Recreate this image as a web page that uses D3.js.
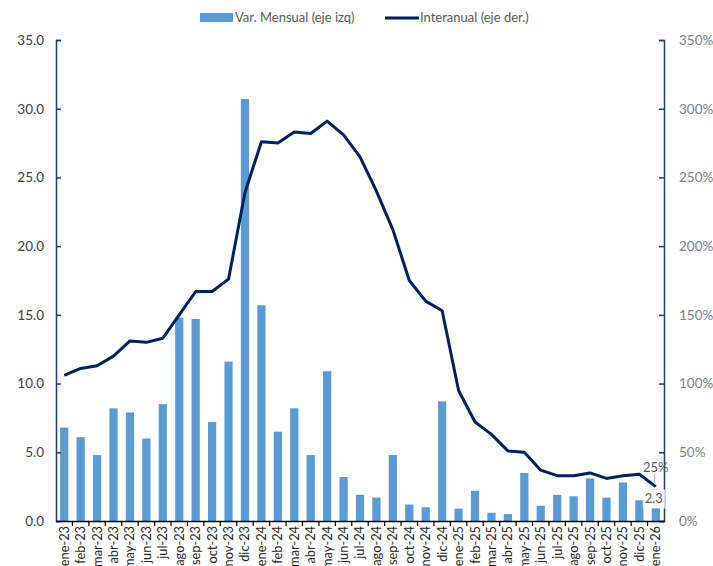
<!DOCTYPE html>
<html><head><meta charset="utf-8">
<script src="https://cdn.jsdelivr.net/npm/d3@7"></script>
<style>body{margin:0;background:#fff;overflow:hidden}svg{display:block;font-family:Lato,"Open Sans",sans-serif}</style>
</head><body><svg id="c" width="713" height="566"></svg>
<script>
const categories = ["ene-23","feb-23","mar-23","abr-23","may-23","jun-23","jul-23","ago-23","sep-23","oct-23","nov-23","dic-23",
"ene-24","feb-24","mar-24","abr-24","may-24","jun-24","jul-24","ago-24","sep-24","oct-24","nov-24","dic-24",
"ene-25","feb-25","mar-25","abr-25","may-25","jun-25","jul-25","ago-25","sep-25","oct-25","nov-25","dic-25","ene-26"];
const mensual = [6.8,6.1,4.8,8.2,7.9,6.0,8.5,14.8,14.7,7.2,11.6,30.7,
15.7,6.5,8.2,4.8,10.9,3.2,1.9,1.7,4.8,1.2,1.0,8.7,
0.9,2.2,0.6,0.5,3.5,1.1,1.9,1.8,3.1,1.7,2.8,1.5,2.3];
const interanual = [106,111,113,120,131,130,133,150,167,167,176,239,
276,275,283,282,291,281,265,240,212,175,160,153,
95,72,63,51,50,37,33,33,35,31,33,34,25];
const leftTicks = [0,5,10,15,20,25,30,35];
const rightTicks = [0,50,100,150,200,250,300,350];
const legendLabels = ["Var. Mensual (eje izq)","Interanual (eje der.)"];

const svg = d3.select("#c");
const m = {l:56, r:664, t:40, b:521};
const xb = d3.scaleBand().domain(categories).range([m.l, m.r]);
const yL = d3.scaleLinear().domain([0,35]).range([m.b, m.t]);
const yR = d3.scaleLinear().domain([0,350]).range([m.b, m.t]);
const navy = "#1f3a78";

// bars
svg.append("g").selectAll("rect").data(categories).join("rect")
  .attr("x", d => xb(d) + xb.bandwidth()*0.25)
  .attr("width", xb.bandwidth()*0.5)
  .attr("y", (d,i) => yL(mensual[i]))
  .attr("height", (d,i) => m.b - yL(mensual[i]))
  .attr("fill", "#5b9bd5");

// line
const line = d3.line().x((d,i) => xb(categories[i]) + xb.bandwidth()/2).y(d => yR(d));
svg.append("path").datum(interanual).attr("d", line)
  .attr("fill","none").attr("stroke","#002060").attr("stroke-width",3).attr("stroke-linejoin","round");

// left axis
const gL = svg.append("g").attr("transform",`translate(${m.l},0)`)
  .call(d3.axisLeft(yL).tickValues(leftTicks).tickFormat(d3.format(".1f")).tickSize(-5).tickPadding(12));
gL.select(".domain").attr("stroke", navy).attr("stroke-width",1.5);
gL.selectAll(".tick line").attr("stroke", navy).attr("stroke-width",1.5);
gL.selectAll("text").attr("font-size",13.5).attr("fill","#404040").attr("font-family","Lato");

// right axis
const gR = svg.append("g").attr("transform",`translate(${m.r},0)`)
  .call(d3.axisRight(yR).tickValues(rightTicks).tickFormat(d => d + "%").tickSize(-5).tickPadding(15));
gR.select(".domain").attr("stroke", navy).attr("stroke-width",1.5);
gR.selectAll(".tick line").attr("stroke", navy).attr("stroke-width",1.5);
gR.selectAll("text").attr("font-size",13.5).attr("fill","#808080").attr("font-family","Lato");

// bottom axis
const gB = svg.append("g").attr("transform",`translate(0,${m.b})`)
  .call(d3.axisBottom(xb).tickSize(0).tickPadding(0));
gB.select(".domain").attr("stroke","#000").attr("stroke-width",1.5);
gB.selectAll(".tick text")
  .attr("transform","rotate(-90)").attr("text-anchor","end")
  .attr("x",-5).attr("y",0).attr("dy","0.35em")
  .attr("font-size",12.8).attr("fill","#262626").attr("font-family","Lato");
// category boundary ticks
svg.append("g").selectAll("line").data(categories.slice(1)).join("line")
  .attr("x1", d => xb(d)).attr("x2", d => xb(d))
  .attr("y1", m.b).attr("y2", m.b+5).attr("stroke","#000").attr("stroke-width",1.2);

// data labels for last point
const last = categories.length-1;
const lx = xb(categories[last]) + xb.bandwidth()/2;
svg.append("rect").attr("x", lx-13).attr("y", yL(mensual[last])).attr("width", 22).attr("height", 19).attr("fill","#fff");
svg.append("text").attr("x", lx-2).attr("y", yL(mensual[last])+14).attr("text-anchor","middle")
  .attr("font-size",13).attr("fill","#595959").text(mensual[last].toFixed(1));
svg.append("line").attr("x1", lx-1).attr("x2", lx-1).attr("y1", yR(interanual[last])-13).attr("y2", yR(interanual[last])-3)
  .attr("stroke","#a6a6a6").attr("stroke-width",1);
svg.append("text").attr("x", lx).attr("y", yR(interanual[last])-15).attr("text-anchor","middle")
  .attr("font-size",13).attr("fill","#595959").text(interanual[last] + "%");

// legend
const lg = svg.append("g");
lg.append("rect").attr("x",200).attr("y",13).attr("width",33).attr("height",9).attr("fill","#5b9bd5");
lg.append("text").attr("x",235).attr("y",22).attr("font-size",13).attr("fill","#595959").text(legendLabels[0]);
lg.append("line").attr("x1",385).attr("x2",419).attr("y1",18).attr("y2",18).attr("stroke","#002060").attr("stroke-width",3);
lg.append("text").attr("x",420).attr("y",22).attr("font-size",13).attr("fill","#595959").text(legendLabels[1]);
</script></body></html>
